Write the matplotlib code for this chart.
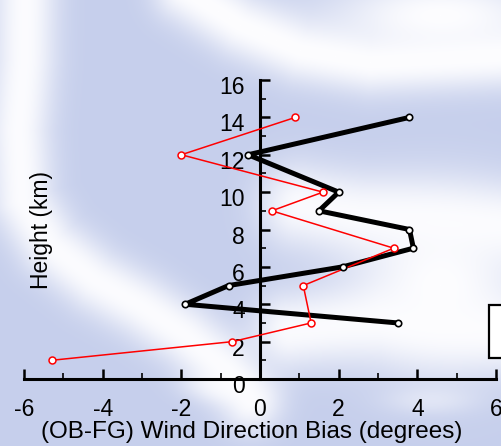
import numpy as np
import matplotlib
matplotlib.use("Agg")
import matplotlib.pyplot as plt
from matplotlib import transforms
from matplotlib.patches import Rectangle

plt.rcParams['font.family'] = ['Liberation Sans', 'DejaVu Sans']
plt.rcParams['axes.unicode_minus'] = False

# ---- data ----
black_height = [14, 12, 10, 9, 8, 7, 6, 5, 4, 3]
black_bias = [3.8, -0.3, 2.0, 1.5, 3.8, 3.9, 2.1, -0.8, -1.9, 3.5]
red_height = [14, 12, 10, 9, 7, 5, 3, 2, 1]
red_bias = [0.9, -2.0, 1.6, 0.3, 3.4, 1.1, 1.3, -0.7, -5.3]
x_ticks = [-6, -4, -2, 0, 2, 4, 6]
y_ticks = [0, 2, 4, 6, 8, 10, 12, 14, 16]

W, H = 502, 446
fig = plt.figure(figsize=(W / 100, H / 100), dpi=100)

# ---- decorative background (soft blue/white swirl) ----
yy, xx = np.mgrid[0:H, 0:W].astype(float)


def seg_dist(px, py, pts):
    d = np.full(px.shape, np.inf)
    for (x0, y0), (x1, y1) in zip(pts[:-1], pts[1:]):
        dx, dy = x1 - x0, y1 - y0
        t = ((px - x0) * dx + (py - y0) * dy) / (dx * dx + dy * dy)
        t = np.clip(t, 0, 1)
        dd = np.hypot(px - (x0 + t * dx), py - (y0 + t * dy))
        d = np.minimum(d, dd)
    return d


def soft(d, s):
    return np.exp(-(d / s) ** 2.2)


keep = np.ones((H, W))
strokes = [
    ([(25, -20), (24, 60), (18, 130), (22, 200), (50, 245), (95, 280),
      (140, 305), (185, 335), (225, 368), (250, 400)], 32, 0.97),
    ([(185, -10), (240, 25), (300, 50), (370, 62), (502, 55)], 32, 1.0),
    ([(300, 205), (360, 215), (502, 225)], 42, 0.95),
    ([(290, 330), (380, 320), (502, 330)], 38, 0.95),
]
for pts, s, a in strokes:
    d = seg_dist(xx, yy, pts)
    keep *= 1 - a * soft(d, s)

blobs = [
    (440, 15, 110, 40, 1.0),
    (440, 285, 85, 85, 1.0),
    (220, 385, 35, 16, 0.7),
    (430, 400, 45, 14, 0.4),
]
for cx, cy, sx, sy, a in blobs:
    d = np.sqrt(((xx - cx) / sx) ** 2 + ((yy - cy) / sy) ** 2)
    keep *= 1 - a * soft(d, 1.0)

wht = 1 - keep
base = np.array([198, 207, 236]) / 255.0
white = np.array([253, 253, 255]) / 255.0
img = base[None, None, :] * (1 - wht[..., None]) + white[None, None, :] * wht[..., None]

bg = fig.add_axes([0, 0, 1, 1], zorder=-5)
bg.imshow(img, aspect='auto', extent=(0, W, H, 0), interpolation='bilinear')
bg.set_xlim(0, W)
bg.set_ylim(H, 0)
bg.axis('off')

# ---- main axes ----
left, right, top, bottom = 24, 496, 80, 379
ax = fig.add_axes([left / W, 1 - bottom / H, (right - left) / W, (bottom - top) / H])
ax.set_facecolor('none')
ax.set_xlim(-6, 6)
ax.set_ylim(0, 16)

ax.plot(black_bias, black_height, color='black', lw=3.6, solid_joinstyle='round', zorder=3)
ax.plot(red_bias, red_height, color='red', lw=1.1, marker='o', ms=5, mfc='white',
        mec='red', mew=1.1, zorder=4)
ax.plot(black_bias, black_height, ls='none', marker='o', ms=4.6, mfc='white',
        mec='black', mew=1.2, zorder=5)

for s in ['top', 'right']:
    ax.spines[s].set_visible(False)
ax.spines['left'].set_position(('data', 0))
ax.spines['left'].set_linewidth(2.2)
ax.spines['bottom'].set_linewidth(2.2)

ax.set_xticks(x_ticks)
ax.set_yticks(y_ticks)
ax.set_xticks(np.arange(-5, 6, 2), minor=True)
ax.set_yticks(np.arange(1, 16, 2), minor=True)
ax.tick_params(which='major', direction='in', length=7, width=1.8, labelsize=16.5,
               colors='black')
ax.tick_params(which='minor', direction='in', length=4, width=1.2)
ax.tick_params(axis='x', which='major', pad=14)
ax.tick_params(axis='y', which='major', pad=11)

off = transforms.ScaledTranslation(0, -5 / 100, fig.dpi_scale_trans)
for lab in ax.get_yticklabels():
    lab.set_transform(lab.get_transform() + off)

fig.text(252 / W, 1 - 432 / H, '(OB-FG) Wind Direction Bias (degrees)',
         ha='center', va='center', fontsize=17.5)
fig.text(42 / W, 1 - 230 / H, 'Height (km)', ha='center', va='center',
         rotation=90, fontsize=16.5)

# partially visible legend frame at the right edge
fig.patches.append(Rectangle((489 / W, 1 - 358 / H), 30 / W, 53 / H,
                             transform=fig.transFigure, facecolor='white',
                             edgecolor='black', lw=1.6, zorder=2))

fig.savefig('out.png', dpi=100)
